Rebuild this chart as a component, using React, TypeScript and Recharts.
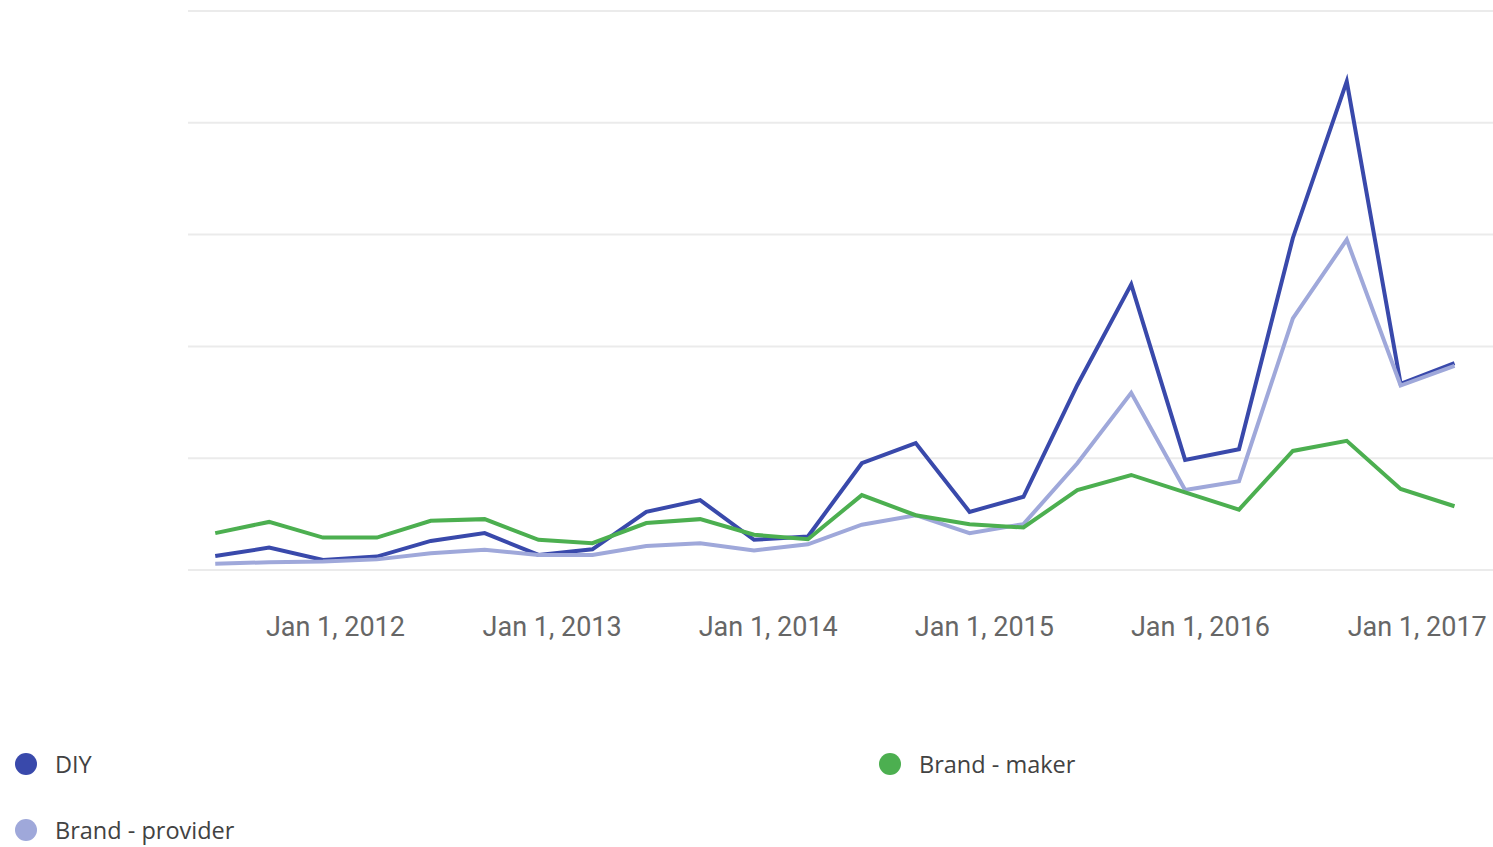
import { CartesianGrid, Line, LineChart, XAxis, YAxis } from 'recharts';

const dates = [
  '2011-06-12', '2011-09-11', '2011-12-11', '2012-03-11', '2012-06-10', '2012-09-09',
  '2012-12-09', '2013-03-10', '2013-06-09', '2013-09-08', '2013-12-08', '2014-03-09',
  '2014-06-08', '2014-09-07', '2014-12-07', '2015-03-08', '2015-06-07', '2015-09-06',
  '2015-12-06', '2016-03-06', '2016-06-05', '2016-09-04', '2016-12-04', '2017-03-05',
];

const diy = [
  2.5, 4.0, 1.8, 2.4, 5.2, 6.6, 2.7, 3.7, 10.4, 12.5, 5.4, 6.0,
  19.1, 22.7, 10.4, 13.1, 33.1, 51.1, 19.7, 21.6, 59.4, 87.4, 33.3, 37.0,
];

const brandProvider = [
  1.1, 1.4, 1.5, 1.9, 3.0, 3.6, 2.7, 2.7, 4.3, 4.8, 3.5, 4.6,
  8.1, 9.8, 6.6, 8.2, 19.1, 31.7, 14.3, 15.9, 45.0, 59.1, 33.0, 36.5,
];

const brandMaker = [
  6.6, 8.6, 5.8, 5.8, 8.8, 9.1, 5.4, 4.8, 8.4, 9.1, 6.3, 5.5,
  13.4, 9.8, 8.2, 7.6, 14.3, 17.0, 13.9, 10.8, 21.3, 23.1, 14.5, 11.4,
];

const tickDates = ['2012-01-01', '2013-01-01', '2014-01-01', '2015-01-01', '2016-01-01', '2017-01-01'];
const yTicks = [0, 20, 40, 60, 80, 100];

const series = [
  { key: 'diy', name: 'DIY', color: '#3949ab' },
  { key: 'provider', name: 'Brand - provider', color: '#9fa8da' },
  { key: 'maker', name: 'Brand - maker', color: '#4caf50' },
];

const data = dates.map((d, i) => ({
  t: Date.parse(d),
  diy: diy[i],
  provider: brandProvider[i],
  maker: brandMaker[i],
}));

const months = ['Jan', 'Feb', 'Mar', 'Apr', 'May', 'Jun', 'Jul', 'Aug', 'Sep', 'Oct', 'Nov', 'Dec'];
const formatDate = (t: number) => {
  const d = new Date(t);
  return `${months[d.getUTCMonth()]} ${d.getUTCDate()}, ${d.getUTCFullYear()}`;
};

function LegendItem({ name, color, left, top }: { name: string; color: string; left: number; top: number }) {
  return (
    <div style={{ position: 'absolute', left, top, display: 'flex', alignItems: 'center' }}>
      <span style={{ width: 22, height: 22, borderRadius: '50%', background: color, display: 'inline-block' }} />
      <span style={{ marginLeft: 18, fontFamily: '"Open Sans", sans-serif', fontSize: 23.5, color: '#424242' }}>{name}</span>
    </div>
  );
}

export default function App() {
  return (
    <div style={{ position: 'absolute', left: 0, top: 0, width: 1493, height: 847, background: '#fff' }}>
      <LineChart width={1493} height={680} data={data} margin={{ top: 11, right: 0, left: 188, bottom: 50 }}>
        <CartesianGrid vertical={false} stroke="#ebebeb" strokeWidth={2} />
        <XAxis
          dataKey="t"
          type="number"
          scale="time"
          domain={[Date.parse('2011-04-27'), Date.parse('2017-05-09')]}
          ticks={tickDates.map((d) => Date.parse(d))}
          tickFormatter={formatDate}
          axisLine={false}
          tickLine={false}
          tickSize={0}
          tickMargin={47}
          height={60}
          interval={0}
          tick={{ fill: '#666', fontSize: 27, fontFamily: 'Roboto, sans-serif' }}
        />
        <YAxis hide domain={[0, 100]} ticks={yTicks} />
        {series.map((s) => (
          <Line
            key={s.key}
            dataKey={s.key}
            name={s.name}
            stroke={s.color}
            strokeWidth={4}
            dot={false}
            activeDot={false}
            type="linear"
            isAnimationActive={false}
          />
        ))}
      </LineChart>
      <LegendItem name="DIY" color="#3949ab" left={15} top={748} />
      <LegendItem name="Brand - maker" color="#4caf50" left={879} top={748} />
      <LegendItem name="Brand - provider" color="#9fa8da" left={15} top={814} />
    </div>
  );
}
